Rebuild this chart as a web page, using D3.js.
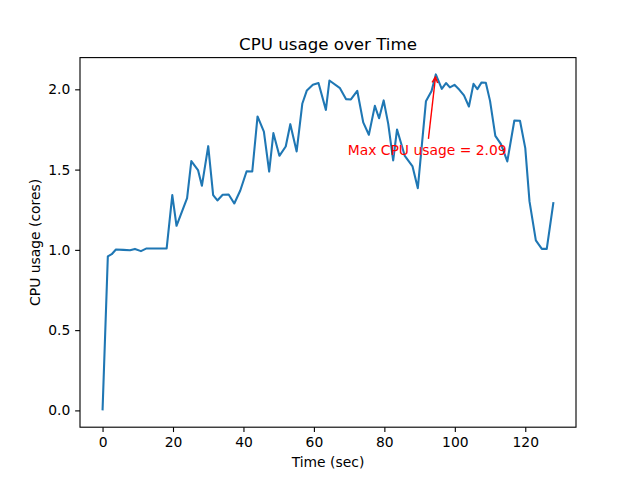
<!DOCTYPE html>
<html>
<head>
<meta charset="utf-8">
<script src="https://cdn.jsdelivr.net/npm/d3@7"></script>
<style>
  html, body { margin: 0; padding: 0; background: #fff; }
  svg { display: block; }
  text { font-family: "DejaVu Sans", sans-serif; }
</style>
</head>
<body>
<svg id="chart" width="640" height="480"></svg>
<script>
// ---- data ----
const timeSec = [0, 1.5, 2.6, 3.8, 5.9, 7.8, 9.2, 10.9, 12.5, 14.2, 16.3, 18.2, 19.8, 21, 24, 25.2, 27.1, 28.2, 30, 31.4,
  32.6, 34.1, 35.8, 37.4, 39.1, 40.9, 42.5, 44.0, 45.8, 47.3, 48.5, 50.2, 52, 53.3, 55.1, 56.7, 58, 59.7, 61.3, 63.4,
  64.4, 67.4, 69.1, 70.5, 72.3, 74, 75.6, 77.3, 78.5, 79.8, 81.1, 82.5, 83.6, 85.8, 88, 89.5, 91.8, 93.4, 94.6, 96.3,
  97.5, 98.6, 99.9, 101.3, 102.6, 104, 105.3, 106.4, 107.6, 108.8, 110, 111.5, 113.1, 114.9, 116.9, 118.5, 120, 121.2,
  123, 124.7, 126.1, 128];
const cpuCores = [0, 0.959, 0.973, 1.002, 1.0, 0.998, 1.006, 0.992, 1.009, 1.009, 1.009, 1.009, 1.341, 1.15, 1.322, 1.553,
  1.497, 1.399, 1.646, 1.341, 1.308, 1.343, 1.345, 1.289, 1.37, 1.49, 1.488, 1.831, 1.737, 1.488, 1.727, 1.586, 1.644,
  1.783, 1.613, 1.91, 1.993, 2.028, 2.039, 1.872, 2.055, 2.007, 1.939, 1.937, 1.991, 1.794, 1.717, 1.897, 1.82, 1.931,
  1.785, 1.557, 1.75, 1.585, 1.52, 1.384, 1.925, 1.99, 2.093, 2.003, 2.039, 2.012, 2.028, 1.997, 1.962, 1.893, 2.034,
  2.001, 2.043, 2.041, 1.928, 1.71, 1.659, 1.551, 1.806, 1.804, 1.634, 1.302, 1.059, 1.006, 1.006, 1.297];
const xTicks = [0, 20, 40, 60, 80, 100, 120];
const yTicks = [0.0, 0.5, 1.0, 1.5, 2.0];
const titleText = "CPU usage over Time";
const xLabelText = "Time (sec)";
const yLabelText = "CPU usage (cores)";

// ---- layout ----
const W = 640, H = 480;
const L = 80, R = 576, T = 57.6, B = 427.2;
const pt = 100 / 72;
const svg = d3.select("#chart");

const xMin = d3.min(timeSec), xMax = d3.max(timeSec);
const yMin = d3.min(cpuCores), yMax = d3.max(cpuCores);
const xm = (xMax - xMin) * 0.05, ym = (yMax - yMin) * 0.05;
const x = d3.scaleLinear().domain([xMin - xm, xMax + xm]).range([L, R]);
const y = d3.scaleLinear().domain([yMin - ym, yMax + ym]).range([B, T]);

const fs = 10 * pt;

// axes
const xAxis = d3.axisBottom(x).tickValues(xTicks).tickFormat(d3.format("d"))
  .tickSize(3.5 * pt).tickPadding(3.5 * pt);
const yAxis = d3.axisLeft(y).tickValues(yTicks).tickFormat(d3.format(".1f"))
  .tickSize(3.5 * pt).tickPadding(3.5 * pt);

const gx = svg.append("g").attr("transform", `translate(0,${B})`).call(xAxis);
const gy = svg.append("g").attr("transform", `translate(${L},0)`).call(yAxis);
[gx, gy].forEach(g => {
  g.select(".domain").remove();
  g.selectAll(".tick line").attr("stroke", "#000").attr("stroke-width", 0.8 * pt);
  g.selectAll(".tick text").attr("fill", "#000").style("font-size", fs + "px")
    .style("font-family", "'DejaVu Sans', sans-serif");
});
gx.selectAll(".tick text").attr("dy", "0.76em");

// line
const line = d3.line().x((d, i) => x(timeSec[i])).y(d => y(d));
svg.append("path").datum(cpuCores)
  .attr("d", line)
  .attr("fill", "none")
  .attr("stroke", "#1f77b4")
  .attr("stroke-width", 1.5 * pt)
  .attr("stroke-linejoin", "round")
  .attr("stroke-linecap", "butt");

// spines
svg.append("rect").attr("x", L).attr("y", T).attr("width", R - L).attr("height", B - T)
  .attr("fill", "none").attr("stroke", "#000").attr("stroke-width", 0.8 * pt);

// annotation
const iMax = d3.maxIndex(cpuCores);
const mx = timeSec[iMax], mv = cpuCores[iMax];
const ann = svg.append("text")
  .attr("x", x(mx - 25)).attr("y", y(mv - 0.5))
  .attr("fill", "red").style("font-size", fs + "px")
  .text("Max CPU usage = " + mv.toFixed(2));
const bb = ann.node().getBBox();
const cx = bb.x + bb.width / 2, cy = bb.y + bb.height / 2;
const tx = x(mx), ty = y(mv);
let dx = tx - cx, dy = ty - cy;
const len = Math.hypot(dx, dy);
const ux = dx / len, uy = dy / len;
// clip at bbox (pad 4pt as in matplotlib default bbox-less? use small pad)
const padB = 0;
const tX = ux !== 0 ? ((ux > 0 ? bb.x + bb.width - cx : bb.x - cx) / ux) : Infinity;
const tY = uy !== 0 ? ((uy > 0 ? bb.y + bb.height - cy : bb.y - cy) / uy) : Infinity;
const tStart = Math.min(tX, tY) + 2 * pt + padB;
const sx = cx + ux * tStart, sy = cy + uy * tStart;
const ex = tx - ux * 2 * pt, ey = ty - uy * 2 * pt;
const arrow = svg.append("g").attr("stroke", "red").attr("stroke-width", 1 * pt).attr("fill", "none");
arrow.append("line").attr("x1", sx).attr("y1", sy).attr("x2", ex).attr("y2", ey);
const hl = 0.4 * fs, hw = 0.2 * fs;
const px = -uy, py = ux;
arrow.append("polyline")
  .attr("points", [
    [ex - ux * hl + px * hw, ey - uy * hl + py * hw],
    [ex, ey],
    [ex - ux * hl - px * hw, ey - uy * hl - py * hw]
  ].map(p => p.join(",")).join(" "))
  .attr("stroke-linejoin", "miter");

// title & labels
svg.append("text").attr("x", (L + R) / 2).attr("y", 50).attr("text-anchor", "middle")
  .style("font-size", (12 * pt) + "px").attr("fill", "#000").text(titleText);
svg.append("text").attr("x", (L + R) / 2).attr("y", 467).attr("text-anchor", "middle")
  .style("font-size", fs + "px").attr("fill", "#000").text(xLabelText);
svg.append("text").attr("transform", `translate(40,${(T + B) / 2}) rotate(-90)`)
  .attr("text-anchor", "middle").style("font-size", fs + "px").attr("fill", "#000").text(yLabelText);
</script>
</body>
</html>
